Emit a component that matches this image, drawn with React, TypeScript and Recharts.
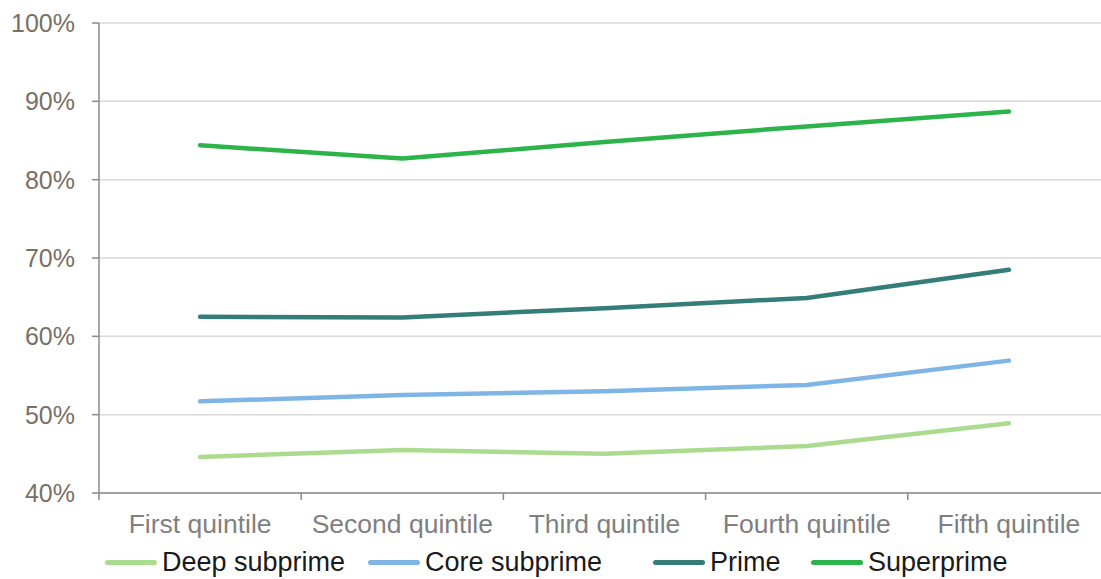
import React from 'react'
import { LineChart, Line, XAxis, YAxis, CartesianGrid, Legend } from 'recharts'

const categories = ['First quintile', 'Second quintile', 'Third quintile', 'Fourth quintile', 'Fifth quintile']
const deepSubprime = [44.6, 45.5, 45.0, 46.0, 48.9]
const coreSubprime = [51.7, 52.5, 53.0, 53.8, 56.9]
const prime = [62.5, 62.4, 63.6, 64.9, 68.5]
const superprime = [84.4, 82.7, 84.8, 86.8, 88.7]
const yTicks = [40, 50, 60, 70, 80, 90, 100]

const series = [
  { key: 'deep', name: 'Deep subprime', color: '#abdb8f' },
  { key: 'core', name: 'Core subprime', color: '#7fb5e5' },
  { key: 'prime', name: 'Prime', color: '#347d79' },
  { key: 'superprime', name: 'Superprime', color: '#2cb34a' },
]
// legend slot widths, matching the uneven spacing of the original
const legendSlots = [263, 285, 158, 220]

const data = categories.map((name, i) => ({
  name,
  deep: deepSubprime[i],
  core: coreSubprime[i],
  prime: prime[i],
  superprime: superprime[i],
}))

const font = '"Liberation Sans", Arial, sans-serif'

// x ticks sit on the category boundaries, labels in the middle
const CategoryTick = (props: any) => {
  const { x, y, payload, width } = props
  const half = width / (2 * categories.length)
  return (
    <g>
      <line x1={x - half} y1={y} x2={x - half} y2={y + 7} stroke="#8a8a8a" strokeWidth={1.5} />
      <text x={x} y={y + 40} textAnchor="middle" fill="#808080" fontSize={26.5} fontFamily={font}>
        {payload.value}
      </text>
    </g>
  )
}

const LegendContent = () => (
  <div style={{ display: 'flex', alignItems: 'center', fontFamily: font, fontSize: 27, color: '#1a1a1a', paddingLeft: 105 }}>
    {series.map((s, i) => (
      <div key={s.key} style={{ display: 'flex', alignItems: 'center', width: legendSlots[i], flex: 'none' }}>
        <span style={{ display: 'inline-block', width: 52, height: 5, borderRadius: 3, background: s.color, marginRight: 5 }} />
        <span>{s.name}</span>
      </div>
    ))}
  </div>
)

export default function App() {
  return (
    <div style={{ position: 'absolute', left: 0, top: 0, width: 1101, height: 579, overflow: 'hidden', background: '#fff' }}>
      <LineChart width={1110} height={579} data={data} margin={{ top: 23, right: 0, bottom: 0, left: 0 }}>
        <CartesianGrid vertical={false} stroke="#d9d9d9" strokeWidth={1.5} />
        <XAxis
          dataKey="name"
          scale="band"
          tickLine={false}
          tickSize={0}
          tickMargin={0}
          height={54}
          axisLine={{ stroke: '#8a8a8a', strokeWidth: 1.5 }}
          tick={<CategoryTick />}
          interval={0}
        />
        <YAxis
          domain={[40, 100]}
          ticks={yTicks}
          width={99}
          tickSize={7}
          tickMargin={17}
          tickFormatter={(v) => `${v}%`}
          axisLine={{ stroke: '#8a8a8a', strokeWidth: 1.5 }}
          tickLine={{ stroke: '#8a8a8a', strokeWidth: 1.5 }}
          tick={{ fill: '#7a6f63', fontSize: 25, fontFamily: font }}
        />
        <Legend verticalAlign="bottom" align="left" height={32} content={<LegendContent />} />
        {series.map((s) => (
          <Line
            key={s.key}
            dataKey={s.key}
            name={s.name}
            type="linear"
            stroke={s.color}
            strokeWidth={4.5}
            strokeLinecap="round"
            dot={false}
            isAnimationActive={false}
          />
        ))}
      </LineChart>
    </div>
  )
}
